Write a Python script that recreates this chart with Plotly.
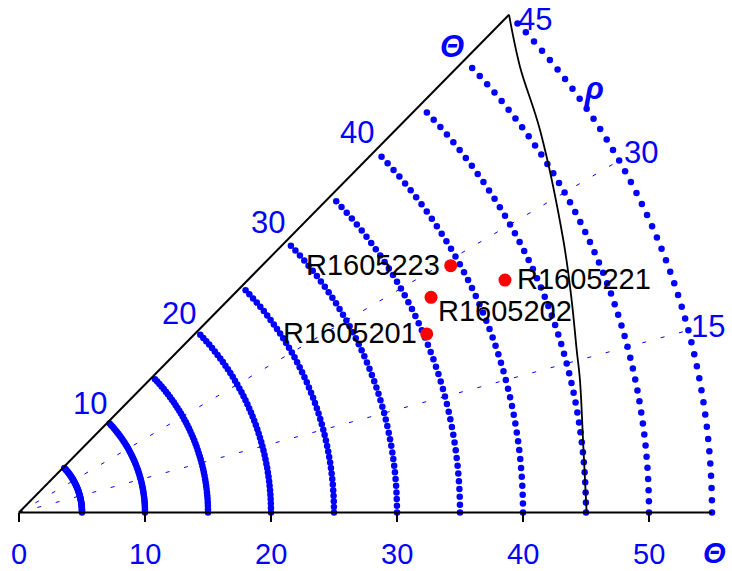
import numpy as np
import plotly.graph_objects as go

# Θ reference arcs (radius) and the angular positions of their dots (degrees)
arc_radii = [5, 10, 15, 20, 25, 30, 35, 40, 45, 50, 55]
arc_dot_angles = list(range(0, 45))

# ρ guide lines (degrees) and their labels
rho_guides = [15, 30]
rho_label_text = ["15", "30", "45"]
rho_label_x = [54.68, 49.37, 40.95]
rho_label_y = [14.57, 28.16, 38.48]

# axis ticks
x_ticks = [0, 10, 20, 30, 40, 50]
diag_ticks = [10, 20, 30, 40]

# samples
sample_names = ["R1605223", "R1605221", "R1605202", "R1605201"]
sample_x = [34.26, 38.57, 32.70, 32.36]
sample_y = [19.28, 18.16, 16.81, 13.95]

# boundary curve
curve_x = [38.89, 39.76, 41.35, 43.20, 43.86, 44.26, 44.52, 44.79, 45.05]
curve_y = [38.89, 34.83, 29.88, 21.29, 16.60, 12.70, 10.35, 5.14, 0.0]

BLUE = "#0000FF"
FONT = "Liberation Sans, Arial, sans-serif"
FS = 29       # sample labels
FS_AX = 31    # blue axis / guide labels
FS_TICK = 29  # bottom tick labels
R_MAX = 55

fig = go.Figure()

# dotted arcs
for r in arc_radii:
    a = np.radians(arc_dot_angles)
    fig.add_trace(go.Scatter(
        x=r * np.cos(a), y=r * np.sin(a), mode="markers",
        marker=dict(color=BLUE, size=6.5, line=dict(width=0)),
        hoverinfo="skip", showlegend=False))

# thin dashed ρ guides
for ang in rho_guides:
    a = np.radians(ang)
    fig.add_trace(go.Scatter(
        x=[0, R_MAX * np.cos(a)], y=[0, R_MAX * np.sin(a)], mode="lines",
        line=dict(color=BLUE, width=1, dash="4px,15px"),
        hoverinfo="skip", showlegend=False))

# horizontal Θ axis and 45° Θ axis
d = R_MAX * np.cos(np.radians(45))
fig.add_trace(go.Scatter(x=[0, R_MAX], y=[0, 0], mode="lines",
                         line=dict(color="black", width=2),
                         hoverinfo="skip", showlegend=False))
fig.add_trace(go.Scatter(x=[0, d], y=[0, d], mode="lines",
                         line=dict(color="black", width=2),
                         hoverinfo="skip", showlegend=False))

# boundary curve
fig.add_trace(go.Scatter(x=curve_x, y=curve_y, mode="lines",
                         line=dict(color="black", width=1.8, shape="spline"),
                         hoverinfo="skip", showlegend=False))

# samples
fig.add_trace(go.Scatter(x=sample_x, y=sample_y, mode="markers",
                         marker=dict(color="#FF0000", size=13, line=dict(width=0)),
                         hoverinfo="skip", showlegend=False))

annotations = []

# tick marks and labels on the horizontal axis
shapes = []
for t in x_ticks:
    shapes.append(dict(type="line", xref="x", yref="y", x0=t, x1=t, y0=0, y1=-0.75,
                       line=dict(color="black", width=2)))
    annotations.append(dict(x=t, y=0, xref="x", yref="y", text=str(t), showarrow=False,
                            yshift=-41, font=dict(color=BLUE, size=FS_TICK, family=FONT)))
annotations.append(dict(x=55.16, y=0, xref="x", yref="y", text="<b><i>Θ</i></b>",
                        showarrow=False, yshift=-40,
                        font=dict(color=BLUE, size=FS_TICK, family=FONT)))

# labels along the 45° axis
c45 = np.cos(np.radians(45))
for t in diag_ticks:
    annotations.append(dict(x=t * c45, y=t * c45, xref="x", yref="y", text=str(t),
                            showarrow=False, xshift=-18, yshift=18,
                            font=dict(color=BLUE, size=FS_AX, family=FONT)))
annotations.append(dict(x=50 * c45, y=50 * c45, xref="x", yref="y", text="<b><i>Θ</i></b>",
                        showarrow=False, xshift=-12, yshift=13,
                        font=dict(color=BLUE, size=FS_AX, family=FONT)))

# ρ labels
for txt, lx, ly in zip(rho_label_text, rho_label_x, rho_label_y):
    annotations.append(dict(x=lx, y=ly, xref="x", yref="y", text=txt, showarrow=False,
                            font=dict(color=BLUE, size=FS_AX, family=FONT)))
annotations.append(dict(x=45.63, y=33.16, xref="x", yref="y", text="<b><i>ρ</i></b>",
                        showarrow=False, font=dict(color=BLUE, size=FS_AX, family=FONT)))

# sample labels
label_style = {
    "R1605223": dict(xanchor="right", xshift=-9, yshift=1),
    "R1605221": dict(xanchor="left", xshift=10, yshift=1),
    "R1605202": dict(xanchor="left", xshift=5, yshift=-14),
    "R1605201": dict(xanchor="right", xshift=-8, yshift=1),
}
for n, sx, sy in zip(sample_names, sample_x, sample_y):
    annotations.append(dict(x=sx, y=sy, xref="x", yref="y", text=n, showarrow=False,
                            yanchor="middle", font=dict(color="black", size=FS, family=FONT),
                            **label_style[n]))

W, H = 732, 571
ox, oy = 19.0, 512.5
sx_px, sy_px = 12.6, 12.8

fig.update_layout(
    width=W, height=H,
    margin=dict(l=0, r=0, t=0, b=0),
    paper_bgcolor="white", plot_bgcolor="white",
    xaxis=dict(range=[-ox / sx_px, (W - ox) / sx_px], visible=False, fixedrange=True),
    yaxis=dict(range=[-(H - oy) / sy_px, oy / sy_px], visible=False, fixedrange=True),
    annotations=annotations, shapes=shapes,
    showlegend=False,
)

fig.write_html("out.html")
